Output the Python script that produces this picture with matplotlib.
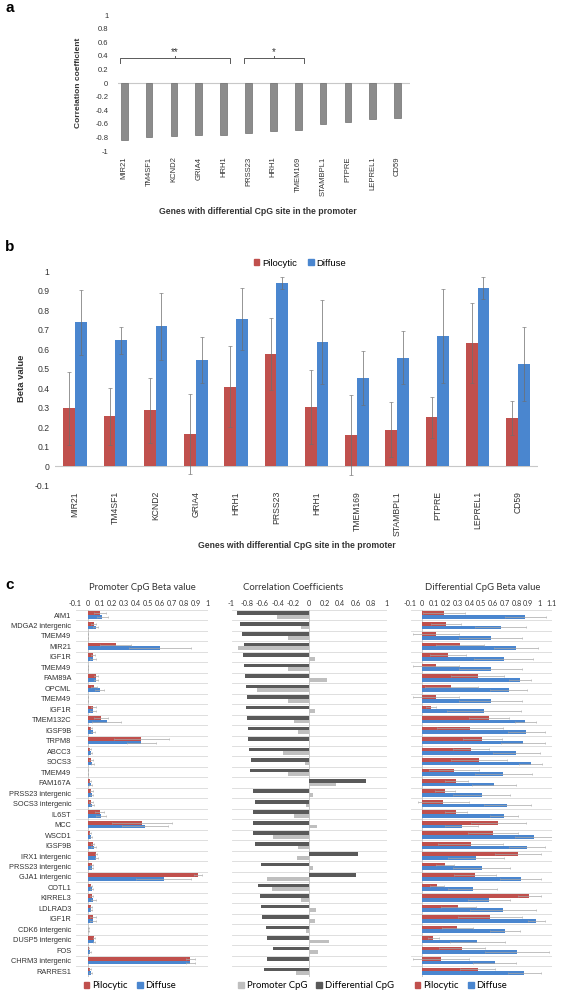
import matplotlib.pyplot as plt
from matplotlib.patches import Patch
import numpy as np

plt.rcParams['font.family'] = ['Liberation Sans', 'DejaVu Sans']

# ---------------- panel a: correlation of differential CpG sites
genes_a = ["MIR21", "TM4SF1", "KCND2", "GRIA4", "HRH1", "PRSS23", "HRH1",
           "TMEM169", "STAMBPL1", "PTPRE", "LEPREL1", "CD59"]
corr_a = [-0.845, -0.80, -0.78, -0.77, -0.77, -0.74, -0.70, -0.69,
          -0.61, -0.575, -0.53, -0.52]
sig_groups = [(0, 4, "**"), (5, 7, "*")]

# ---------------- panel b: beta values per tumour type
pilo_b = [0.296, 0.255, 0.285, 0.162, 0.407, 0.573, 0.304, 0.159, 0.185, 0.251, 0.629, 0.248]
pilo_b_err = [0.186, 0.145, 0.165, 0.205, 0.206, 0.185, 0.19, 0.205, 0.141, 0.105, 0.205, 0.087]
diff_b = [0.737, 0.644, 0.716, 0.545, 0.754, 0.937, 0.634, 0.453, 0.556, 0.667, 0.911, 0.525]
diff_b_err = [0.166, 0.07, 0.17, 0.118, 0.16, 0.03, 0.216, 0.138, 0.137, 0.24, 0.056, 0.19]

# ---------------- panel c
genes_c = ["AIM1", "MDGA2 intergenic", "TMEM49", "MIR21", "IGF1R", "TMEM49",
           "FAM89A", "OPCML", "TMEM49", "IGF1R", "TMEM132C", "IGSF9B", "TRPM8",
           "ABCC3", "SOCS3", "TMEM49", "FAM167A", "PRSS23 intergenic",
           "SOCS3 intergenic", "IL6ST", "MCC", "WSCD1", "IGSF9B", "IRX1 intergenic",
           "PRSS23 intergenic", "GJA1 intergenic", "COTL1", "KIRREL3", "LDLRAD3",
           "IGF1R", "CDK6 intergenic", "DUSP5 intergenic", "FOS",
           "CHRM3 intergenic", "RARRES1"]

prom_pilo = [0.104, 0.053, 0.005, 0.235, 0.045, 0.005, 0.073, 0.053, 0.005, 0.048,
             0.11, 0.03, 0.448, 0.02, 0.028, 0.004, 0.02, 0.03, 0.03, 0.10,
             0.454, 0.02, 0.042, 0.07, 0.034, 0.92, 0.028, 0.034, 0.03, 0.045,
             0.005, 0.053, 0.01, 0.857, 0.02]
prom_pilo_err = [0.05, 0.02, 0.003, 0.13, 0.02, 0.003, 0.015, 0.025, 0.003, 0.02,
                 0.06, 0.01, 0.23, 0.01, 0.015, 0.003, 0.01, 0.012, 0.015, 0.04,
                 0.25, 0.01, 0.015, 0.01, 0.012, 0.035, 0.01, 0.015, 0.01, 0.025,
                 0.004, 0.01, 0.006, 0.04, 0.008]
prom_diff = [0.123, 0.067, 0.005, 0.605, 0.045, 0.005, 0.073, 0.10, 0.005, 0.045,
             0.16, 0.045, 0.448, 0.028, 0.04, 0.004, 0.028, 0.034, 0.036, 0.11,
             0.48, 0.028, 0.05, 0.073, 0.034, 0.636, 0.034, 0.048, 0.03, 0.045,
             0.005, 0.056, 0.02, 0.857, 0.025]
prom_diff_err = [0.045, 0.02, 0.003, 0.26, 0.025, 0.003, 0.015, 0.04, 0.003, 0.025,
                 0.12, 0.015, 0.12, 0.01, 0.015, 0.003, 0.012, 0.012, 0.015, 0.04,
                 0.19, 0.01, 0.02, 0.012, 0.01, 0.23, 0.012, 0.02, 0.01, 0.025,
                 0.004, 0.01, 0.01, 0.04, 0.01]

corr_prom = [-0.417, -0.107, -0.275, -0.91, 0.077, -0.275, 0.228, -0.667, -0.275, 0.077,
             -0.2, -0.138, 0.005, -0.34, -0.047, -0.275, 0.348, 0.056, -0.043, -0.2,
             0.1, -0.46, -0.138, -0.15, 0.056, -0.538, -0.48, -0.107, 0.086, 0.077,
             -0.039, 0.258, 0.11, 0.002, -0.172]
corr_diff = [-0.933, -0.89, -0.86, -0.84, -0.847, -0.84, -0.826, -0.817, -0.804, -0.813,
             -0.804, -0.79, -0.79, -0.778, -0.748, -0.761, 0.735, -0.727, -0.697, -0.727,
             -0.727, -0.72, -0.70, 0.628, -0.62, 0.60, -0.654, -0.632, -0.624, -0.611,
             -0.555, -0.546, -0.46, -0.538, -0.585]

dcpg_pilo = [0.184, 0.204, 0.116, 0.32, 0.218, 0.116, 0.47, 0.246, 0.116, 0.074,
             0.567, 0.408, 0.51, 0.414, 0.479, 0.27, 0.29, 0.193, 0.18, 0.283,
             0.646, 0.60, 0.41, 0.81, 0.193, 0.45, 0.127, 0.909, 0.306, 0.575,
             0.297, 0.093, 0.334, 0.159, 0.47]
dcpg_pilo_err = [0.179, 0.126, 0.198, 0.204, 0.15, 0.198, 0.227, 0.224, 0.198, 0.042,
                 0.173, 0.28, 0.164, 0.153, 0.238, 0.214, 0.1, 0.085, 0.22, 0.094,
                 0.232, 0.21, 0.278, 0.196, 0.077, 0.18, 0.06, 0.097, 0.15, 0.269,
                 0.131, 0.047, 0.196, 0.24, 0.147]
dcpg_diff = [0.875, 0.666, 0.58, 0.796, 0.69, 0.58, 0.83, 0.733, 0.58, 0.524,
             0.875, 0.884, 0.853, 0.80, 0.92, 0.688, 0.61, 0.504, 0.722, 0.694,
             0.334, 0.946, 0.887, 0.456, 0.504, 0.836, 0.428, 0.567, 0.688, 0.97,
             0.703, 0.467, 0.807, 0.617, 0.867]
dcpg_diff_err = [0.175, 0.214, 0.27, 0.184, 0.253, 0.27, 0.093, 0.154, 0.27, 0.314,
                 0.091, 0.156, 0.187, 0.2, 0.1, 0.242, 0.19, 0.241, 0.198, 0.122,
                 0.142, 0.162, 0.153, 0.234, 0.241, 0.174, 0.209, 0.178, 0.282, 0.07,
                 0.127, 0.233, 0.273, 0.183, 0.143]

RED = "#C0504D"
BLUE = "#4A86CF"
TXT = "#333333"

W, H = 565, 992
fig = plt.figure(figsize=(W / 100, H / 100), dpi=100)


def px_axes(left, top, right, bottom):
    # place an axes using pixel edges measured from the top-left corner
    return fig.add_axes([left / W, 1 - bottom / H, (right - left) / W, (bottom - top) / H])


def fmt(v):
    # +0 turns -0.0 into 0.0
    return f"{round(v, 1) + 0:g}"


# ---------------- a
ax = px_axes(118, 15, 410, 151)
xa = np.arange(len(genes_a))
ax.bar(xa, corr_a, width=0.27, color="#8C8C8C", edgecolor="#6E6E6E", linewidth=0.5, zorder=2)
ax.axhline(0, color="#C8C8C8", lw=0.8, zorder=1)
ax.set_xlim(-0.25, 11.5)
ax.set_ylim(-1, 1)
yt = np.arange(-1, 1.01, 0.2)
ax.set_yticks(yt, [fmt(v) for v in yt])
ax.set_xticks(xa, genes_a, rotation=90)
ax.tick_params(length=0, labelsize=5.5, colors=TXT)
ax.tick_params(axis="y", pad=7)
ax.tick_params(axis="x", pad=4)
for s in ax.spines.values():
    s.set_visible(False)
for i0, i1, lab in sig_groups:
    xl, xr = i0 - 0.18, i1 + 0.25
    ax.plot([xl, xl, xr, xr], [0.29, 0.37, 0.37, 0.29], color="#595959", lw=0.7)
    xm = (xl + xr) / 2
    ax.plot([xm, xm], [0.37, 0.40], color="#595959", lw=0.7)
    ax.text(xm, 0.38, lab, ha="center", va="bottom", fontsize=7, color=TXT)
fig.text(78 / W, 1 - 83 / H, "Correlation coefficient", rotation=90, ha="center",
         va="center", fontsize=6, fontweight="bold", color=TXT)
fig.text(258 / W, 1 - 211 / H, "Genes with differential CpG site in the promoter",
         ha="center", va="center", fontsize=6.2, fontweight="bold", color=TXT)

# ---------------- b
ax = px_axes(55, 271, 538, 485.5)
w = 0.29
ekw = dict(ecolor="#6E6E6E", elinewidth=0.6, capsize=1.2, capthick=0.5, alpha=0.85)
ax.bar(xa - w / 2, pilo_b, w, color=RED, yerr=pilo_b_err, error_kw=ekw, zorder=2)
ax.bar(xa + w / 2, diff_b, w, color=BLUE, yerr=diff_b_err, error_kw=ekw, zorder=2)
ax.axhline(0, color="#C8C8C8", lw=0.8, zorder=1)
ax.set_xlim(-0.5, 11.5)
ax.set_ylim(-0.1, 1)
yt = np.arange(-0.1, 1.01, 0.1)
ax.set_yticks(yt, [fmt(v) for v in yt])
ax.set_xticks(xa, genes_a, rotation=90)
ax.tick_params(length=0, labelsize=6.2, colors=TXT)
ax.tick_params(axis="y", pad=4)
ax.tick_params(axis="x", pad=4)
for s in ax.spines.values():
    s.set_visible(False)
fig.legend([Patch(color=RED), Patch(color=BLUE)], ["Pilocytic", "Diffuse"],
           loc="center", bbox_to_anchor=(300 / W, 1 - 263 / H), ncol=2, frameon=False,
           fontsize=6.8, handlelength=0.6, handleheight=0.6, handletextpad=0.3,
           columnspacing=1.2)
fig.text(22 / W, 1 - 378 / H, "Beta value", rotation=90, ha="center", va="center",
         fontsize=6.8, fontweight="bold", color=TXT)
fig.text(297 / W, 1 - 545 / H, "Genes with differential CpG site in the promoter",
         ha="center", va="center", fontsize=6.2, fontweight="bold", color=TXT)

# ---------------- c
yc = np.arange(len(genes_c))
hc = 0.35
cekw = dict(ecolor="#A6A6A6", elinewidth=0.5, capsize=0.8, capthick=0.4)
c_top, c_bot = 609.8, 976.5


def style_c(ax, xmin, xmax, ticks):
    ax.set_xlim(xmin, xmax)
    ax.set_ylim(len(genes_c) - 0.5, -0.5)
    for k in np.arange(-0.5, len(genes_c), 1):
        ax.axhline(k, color="#D9D9D9", lw=0.6, zorder=0)
    ax.axvline(0, color="#BFBFBF", lw=0.6, zorder=0)
    ax.xaxis.tick_top()
    ax.set_xticks(ticks, [fmt(v) for v in ticks])
    ax.tick_params(length=0, labelsize=5.2, colors=TXT, pad=2)
    for lab in ax.get_xticklabels():
        lab.set_family("Lato")
    for s in ax.spines.values():
        s.set_visible(False)


axl = px_axes(75.5, c_top, 207.5, c_bot)
axl.barh(yc - hc / 2, prom_pilo, hc, color=RED, xerr=prom_pilo_err, error_kw=cekw)
axl.barh(yc + hc / 2, prom_diff, hc, color=BLUE, xerr=prom_diff_err, error_kw=cekw)
style_c(axl, -0.1, 1.0, np.arange(-0.1, 1.01, 0.1))
axl.set_yticks(yc, genes_c)
axl.tick_params(axis="y", labelsize=5.3, pad=3)

axm = px_axes(231.5, c_top, 386.5, c_bot)
axm.barh(yc - hc / 2, corr_diff, hc, color="#595959")
axm.barh(yc + hc / 2, corr_prom, hc, color="#BFBFBF")
style_c(axm, -1, 1, np.arange(-1, 1.01, 0.2))
axm.set_yticks([])

axr = px_axes(410.5, c_top, 551.8, c_bot)
axr.barh(yc - hc / 2, dcpg_pilo, hc, color=RED, xerr=dcpg_pilo_err, error_kw=cekw)
axr.barh(yc + hc / 2, dcpg_diff, hc, color=BLUE, xerr=dcpg_diff_err, error_kw=cekw)
style_c(axr, -0.1, 1.1, np.arange(-0.1, 1.11, 0.1))
axr.set_yticks([])

for xc, title in [(142, "Promoter CpG Beta value"), (293, "Correlation Coefficients"),
                  (483, "Differential CpG Beta value")]:
    fig.text(xc / W, 1 - 588 / H, title, ha="center", va="center", fontsize=6.8,
             family="Lato", color=TXT)

leg_kw = dict(loc="center", ncol=2, frameon=False, handlelength=0.6, handleheight=0.6,
              handletextpad=0.3, columnspacing=1.0, prop={"family": "Lato", "size": 6.8})
fig.legend([Patch(color=RED), Patch(color=BLUE)], ["Pilocytic", "Diffuse"],
           bbox_to_anchor=(130 / W, 1 - 986 / H), **leg_kw)
fig.legend([Patch(color="#BFBFBF"), Patch(color="#595959")], ["Promoter CpG", "Differential CpG"],
           bbox_to_anchor=(316 / W, 1 - 986 / H), **leg_kw)
fig.legend([Patch(color=RED), Patch(color=BLUE)], ["Pilocytic", "Diffuse"],
           bbox_to_anchor=(461 / W, 1 - 986 / H), **leg_kw)

for lab, yp in [("a", 8), ("b", 247), ("c", 585)]:
    fig.text(5 / W, 1 - yp / H, lab, ha="left", va="center", fontsize=11,
             fontweight="bold", color="black")

fig.savefig("out.png", dpi=100)
